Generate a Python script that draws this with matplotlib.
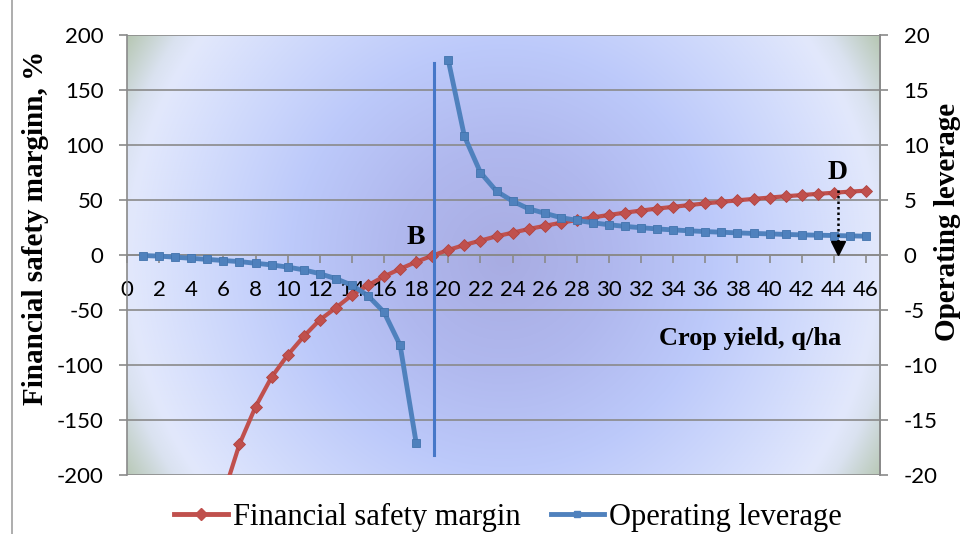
import numpy as np
import matplotlib
matplotlib.use('Agg')
import matplotlib.pyplot as plt
from matplotlib.lines import Line2D

plt.rcParams['axes.unicode_minus'] = False

# ---- data ----
yield_q = list(range(1, 47))
safety_margin = [-1810, -855, -537, -378, -282, -218, -172, -138, -111, -91,
                 -74, -59, -48, -36.5, -27.5, -19.5, -12.6, -6.3, -0.6, 4.6,
                 9.1, 13.1, 17.0, 20.3, 23.6, 26.5, 29.3, 31.8, 34.2, 36.4,
                 38.5, 40.4, 42.2, 43.8, 45.4, 46.9, 48.3, 49.7, 51.0, 52.2,
                 53.4, 54.5, 55.6, 56.6, 57.6, 58.5]
op_leverage = [-0.05, -0.1, -0.2, -0.3, -0.4, -0.5, -0.6, -0.75, -0.9, -1.1,
               -1.35, -1.7, -2.15, -2.75, -3.7, -5.2, -8.2, -17.1, np.nan, 17.7,
               10.8, 7.5, 5.8, 4.9, 4.2, 3.8, 3.4, 3.15, 2.93, 2.75,
               2.6, 2.48, 2.37, 2.28, 2.2, 2.13, 2.07, 2.01, 1.96, 1.92,
               1.87, 1.83, 1.8, 1.77, 1.74, 1.71]
x_ticks = list(range(0, 47, 2))
left_ticks = list(range(-200, 201, 50))
right_ticks = list(range(-20, 21, 5))

c_red = '#C0504D'
c_blue = '#4F81BD'
c_vline = '#4677C8'
c_grid = '#8a8a8a'
tick_font = 'Lato'
serif = 'Liberation Serif'

fig = plt.figure(figsize=(9.63, 5.34), dpi=100, facecolor='white')
ax = fig.add_axes([127/963, 1-475/534, (880-127)/963, (475-35)/534])

# circular gradient background (distance in pixels from plot centre)
px, py = np.meshgrid(np.linspace(127, 880, 377), np.linspace(35, 475, 221))
d = np.hypot(px - 503, py - 258)
stops = [0, 110, 210, 300, 375, 395, 445]
cols = np.array([(168, 172, 226), (176, 184, 238), (188, 201, 250),
                 (208, 218, 252), (226, 232, 252), (218, 226, 240),
                 (176, 194, 168)]) / 255
img = np.dstack([np.interp(d, stops, cols[:, k]) for k in range(3)])
ax.imshow(img, extent=[0, 1, 0, 1], transform=ax.transAxes, aspect='auto',
          interpolation='bicubic', zorder=0, origin='upper')

ax.set_xlim(0, 46.87)
ax.set_ylim(-200, 200)
ax.set_yticks(left_ticks)
ax.grid(axis='y', color=c_grid, lw=1.2, zorder=1)
ax.set_axisbelow(True)

ax.plot(yield_q, safety_margin, color=c_red, lw=3.0, marker='D', ms=6.5,
        mfc=c_red, mec='#b04440', mew=0.6, zorder=3)

for s in ['left', 'right', 'top']:
    ax.spines[s].set_color(c_grid)
    ax.spines[s].set_linewidth(1.2)
ax.spines['top'].set_visible(False)
ax.spines['bottom'].set_position(('data', 0))
ax.spines['bottom'].set_color(c_grid)
ax.spines['bottom'].set_linewidth(1.2)
ax.set_xticks(x_ticks)
ax.set_xticklabels([str(v) for v in x_ticks])
ax.tick_params(axis='x', direction='out', length=6, width=1.2, color=c_grid,
               pad=12, labelsize=16)
ax.tick_params(axis='y', direction='out', length=6, width=1.2, color=c_grid,
               pad=11, labelsize=16)
for lab in ax.get_xticklabels() + ax.get_yticklabels():
    lab.set_fontfamily(tick_font)

ax2 = ax.twinx()
ax2.set_ylim(-20, 20)
ax2.set_yticks(right_ticks)
ax2.plot(yield_q, op_leverage, color=c_blue, lw=3.5, marker='s', ms=6,
         mfc=c_blue, mec='#4273ad', mew=0.6, zorder=3)
for s in ['left', 'right', 'top', 'bottom']:
    ax2.spines[s].set_visible(False)
ax2.spines['right'].set_visible(True)
ax2.spines['right'].set_color(c_grid)
ax2.spines['right'].set_linewidth(1.2)
ax2.tick_params(axis='y', direction='out', length=6, width=1.2, color=c_grid,
                pad=11, labelsize=16)
for lab in ax2.get_yticklabels():
    lab.set_fontfamily(tick_font)

# break-even line, labels, arrow
ax2.plot([19.1, 19.1], [174.5, -182], color=c_vline, lw=2.2,
         transform=ax.transData, zorder=5)
ax2.text(18.0, 16, 'B', transform=ax.transData, fontsize=20, fontweight='bold',
         family=serif, ha='center', va='center', zorder=6)
ax2.text(44.2, 75, 'D', transform=ax.transData, fontsize=20, fontweight='bold',
         family=serif, ha='center', va='center', zorder=6)
ax2.plot([44.25, 44.25], [59, 8], color='black', lw=1.8, ls=(0, (1, 1.2)),
         transform=ax.transData, zorder=6)
ax2.plot([44.25], [6.8], marker='v', ms=10, color='black', mec='black',
         transform=ax.transData, zorder=6)
ax2.text(750/963, 1-338/534, 'Crop yield, q/ha', transform=fig.transFigure,
         fontsize=19, fontweight='bold', family=serif, ha='center', va='center')

fig.text(36/963, 1-228/534, 'Financial safety marginn, %', rotation=90,
         fontsize=21, fontweight='bold', family=serif, ha='center', va='center')
fig.text(947/963, 1-222/534, 'Operating leverage', rotation=90,
         fontsize=21, fontweight='bold', family=serif, ha='center', va='center')

# outer frame edge at the left
fig.add_artist(Line2D([12/963, 12/963], [0, 1], color='#a0a0a0', lw=1.2))

handles = [Line2D([0], [0], color=c_red, lw=3.5, marker='D', ms=6, mfc=c_red,
                  mec=c_red, label='Financial safety margin'),
           Line2D([0], [0], color=c_blue, lw=3.5, marker='s', ms=5, mfc=c_blue,
                  mec=c_blue, label='Operating leverage')]
fig.legend(handles=handles, loc='center', bbox_to_anchor=(508/963, 1-517/534),
           ncol=2, frameon=False, prop={'family': serif, 'size': 22},
           handlelength=1.75, handletextpad=0.15, columnspacing=1.0,
           borderpad=0, borderaxespad=0)

fig.savefig('out.png', dpi=100, facecolor='white')
